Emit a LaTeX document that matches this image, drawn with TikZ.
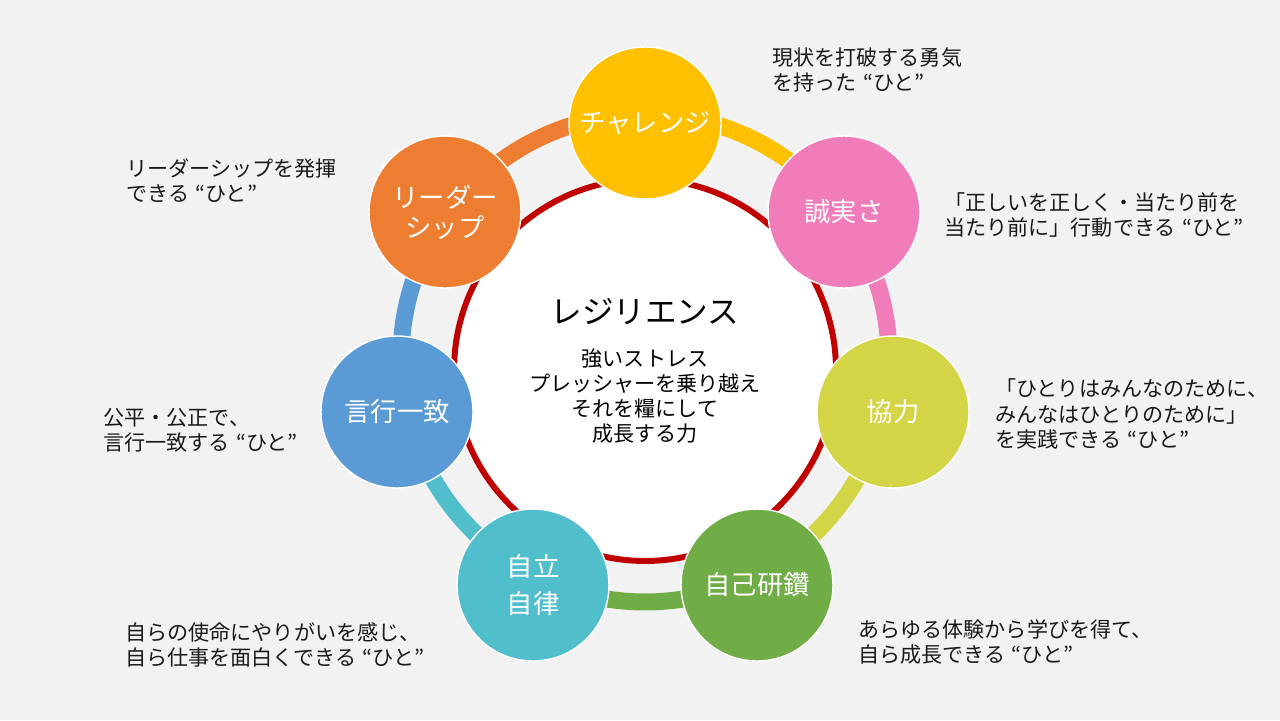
\documentclass[tikz,border=0pt]{standalone}
\usepackage{fontspec}
\setmainfont{Noto Sans CJK JP}
\definecolor{bggray}{HTML}{F2F2F2}
\definecolor{cYel}{HTML}{FFC000}
\definecolor{cPnk}{HTML}{F07CB9}
\definecolor{cLim}{HTML}{D3D446}
\definecolor{cGrn}{HTML}{70AD47}
\definecolor{cTea}{HTML}{51BECC}
\definecolor{cBlu}{HTML}{5B9BD5}
\definecolor{cOrg}{HTML}{ED7D31}
\definecolor{cRed}{HTML}{C00000}
\pgfdeclarelayer{paper}
\pgfdeclarelayer{ring}
\pgfsetlayers{paper,ring,main}
\newcommand{\hito}{\hspace{0.3em}“ひと”}
\tikzset{
  core/.style={circle, fill=white, draw=cRed, line width=3.4pt, minimum size=7.64cm, inner sep=0pt},
  petal/.style={circle, draw=white, line width=0.8pt, minimum size=3.04cm, inner sep=0pt, text=white, align=center},
  ringarc/.style={line width=0.34cm, line cap=butt},
  desc/.style={anchor=west, align=left, inner sep=0pt, text=black!90, font=\fontsize{12}{14.3}\selectfont},
}
\begin{document}
\begin{tikzpicture}[x=0.02cm, y=-0.02cm, line join=round, line cap=round]
	\begin{pgfonlayer}{paper}
		\fill[bggray] (0,0) rectangle (1280,720);
	\end{pgfonlayer}
	\useasboundingbox (0,0) rectangle (1280,720);
	\path (645,358) coordinate (ring)
		(645,123) coordinate (P1)
		(844,212) coordinate (P2)
		(893,412) coordinate (P3)
		(757,585) coordinate (P4)
		(533,585) coordinate (P5)
		(397,412) coordinate (P6)
		(445,212) coordinate (P7);
	% centre
	\node[core] (core) at (645,370) {};
	\node[font=\fontsize{18}{20}\selectfont] (res) at (645,312) {レジリエンス};
	\node[align=center, font=\fontsize{12}{14.2}\selectfont] (resdef) at (645,396) {強いストレス\\プレッシャーを乗り越え\\それを糧にして\\成長する力};
	% petals
	\foreach \i/\c/\t/\ls in {1/cYel/チャレンジ/18, 2/cPnk/誠実さ/18, 3/cLim/協力/18, 4/cGrn/自己研鑽/18, 5/cTea/自立\\自律/21.5, 6/cBlu/言行一致/18, 7/cOrg/リーダー\\シップ/17}
		\node[petal, fill=\c, font=\fontsize{15}{\ls}\selectfont] (n\i) at (P\i) {\t};
	% ring segments, each from one petal to the next
	\begin{pgfonlayer}{ring}
		\foreach \a/\b/\c in {-90/-36.3/cYel, -36.3/12.3/cPnk, 12.3/63.7/cLim, 63.7/116.3/cGrn, 116.3/167.7/cTea, 167.7/216.3/cBlu, 216.3/270/cOrg}
			\draw[ringarc, \c] (ring) ++(\a:244) arc[start angle=\a, end angle=\b, radius=244];
	\end{pgfonlayer}
	% texts
	\node[desc] (d1) at (772,70) {現状を打破する勇気\\を持った\hito};
	\node[desc] (d2) at (944,215) {「正しいを正しく・当たり前を\\当たり前に」行動できる\hito};
	\node[desc] (d3) at (995,414) {「ひとりはみんなのために、\\みんなはひとりのために」\\を実践できる\hito};
	\node[desc] (d4) at (858,642) {あらゆる体験から学びを得て、\\自ら成長できる\hito};
	\node[desc] (d5) at (125,645) {自らの使命にやりがいを感じ、\\自ら仕事を面白くできる\hito};
	\node[desc] (d6) at (103,430) {公平・公正で、\\言行一致する\hito};
	\node[desc] (d7) at (126,181) {リーダーシップを発揮\\できる\hito};
\end{tikzpicture}
\end{document}
